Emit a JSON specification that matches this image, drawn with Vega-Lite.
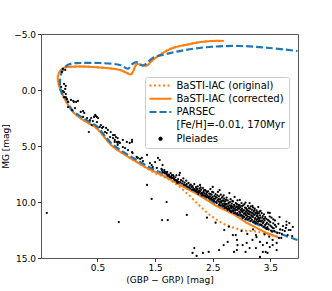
{
"$schema": "https://vega.github.io/schema/vega-lite/v6.json",
"width": 257, "height": 224,
"autosize": {"type": "none"},
"padding": {"left": 41, "top": 34, "right": 34, "bottom": 33},
"config": {
  "font": "DejaVu Sans",
  "view": {"stroke": "#555", "strokeWidth": 1},
  "axis": {"grid": false, "domain": false, "tickSize": 3.5, "tickColor": "#333", "labelFontSize": 9, "labelColor": "#000", "titleFontSize": 9, "titleFontWeight": "normal", "titleColor": "#000", "labelPadding": 2, "titlePadding": 3}
},
"datasets": {
"orig": [
{"i":1,"c":3.63,"m":13.13},{"i":2,"c":3.30,"m":12.68},{"i":3,"c":3.02,"m":12.50},{"i":4,"c":2.73,"m":12.05},{"i":5,"c":2.50,"m":11.34},{"i":6,"c":2.26,"m":10.27},{"i":7,"c":2.03,"m":9.11},{"i":8,"c":1.86,"m":8.39},{"i":9,"c":1.69,"m":7.86},{"i":10,"c":1.46,"m":7.32},
{"i":11,"c":1.24,"m":6.61},{"i":12,"c":0.98,"m":5.80},{"i":13,"c":0.76,"m":5.02},{"i":14,"c":0.62,"m":4.22},{"i":15,"c":0.49,"m":3.43},{"i":16,"c":0.25,"m":2.68},{"i":17,"c":0.06,"m":1.88},{"i":18,"c":-0.05,"m":0.98},{"i":19,"c":-0.12,"m":0.27},{"i":20,"c":-0.17,"m":-0.45},{"i":21,"c":-0.19,"m":-1.07},{"i":22,"c":-0.17,"m":-1.52},{"i":23,"c":-0.12,"m":-1.88},{"i":24,"c":-0.03,"m":-2.05},{"i":25,"c":0.20,"m":-2.10},{"i":26,"c":0.54,"m":-2.01},{"i":27,"c":0.89,"m":-1.79},{"i":28,"c":1.01,"m":-1.52},{"i":29,"c":1.08,"m":-1.38},{"i":30,"c":1.13,"m":-1.79},{"i":31,"c":1.18,"m":-2.30},{"i":32,"c":1.27,"m":-2.23},{"i":33,"c":1.36,"m":-2.18},{"i":34,"c":1.44,"m":-2.59},{"i":35,"c":1.53,"m":-2.95},{"i":36,"c":1.69,"m":-3.48},{"i":37,"c":1.86,"m":-3.84},{"i":38,"c":2.03,"m":-4.02},{"i":39,"c":2.29,"m":-4.29},{"i":40,"c":2.50,"m":-4.38},{"i":41,"c":2.69,"m":-4.38}
],
"corr": [
{"i":1,"c":3.63,"m":13.13},{"i":2,"c":3.40,"m":12.68},{"i":3,"c":3.30,"m":12.41},{"i":4,"c":3.07,"m":11.79},{"i":5,"c":2.85,"m":11.07},{"i":6,"c":2.54,"m":10.27},{"i":7,"c":2.26,"m":9.38},{"i":8,"c":1.93,"m":8.48},{"i":9,"c":1.69,"m":7.77},{"i":10,"c":1.46,"m":7.23},
{"i":11,"c":1.24,"m":6.61},{"i":12,"c":0.98,"m":5.80},{"i":13,"c":0.76,"m":5.02},{"i":14,"c":0.62,"m":4.22},{"i":15,"c":0.49,"m":3.43},{"i":16,"c":0.25,"m":2.68},{"i":17,"c":0.06,"m":1.88},{"i":18,"c":-0.05,"m":0.98},{"i":19,"c":-0.12,"m":0.27},{"i":20,"c":-0.17,"m":-0.45},{"i":21,"c":-0.19,"m":-1.07},{"i":22,"c":-0.17,"m":-1.52},{"i":23,"c":-0.12,"m":-1.88},{"i":24,"c":-0.03,"m":-2.05},{"i":25,"c":0.20,"m":-2.10},{"i":26,"c":0.54,"m":-2.01},{"i":27,"c":0.89,"m":-1.79},{"i":28,"c":1.01,"m":-1.52},{"i":29,"c":1.08,"m":-1.38},{"i":30,"c":1.13,"m":-1.79},{"i":31,"c":1.18,"m":-2.30},{"i":32,"c":1.27,"m":-2.23},{"i":33,"c":1.36,"m":-2.18},{"i":34,"c":1.44,"m":-2.59},{"i":35,"c":1.53,"m":-2.95},{"i":36,"c":1.69,"m":-3.48},{"i":37,"c":1.86,"m":-3.84},{"i":38,"c":2.03,"m":-4.02},{"i":39,"c":2.29,"m":-4.29},{"i":40,"c":2.50,"m":-4.38},{"i":41,"c":2.69,"m":-4.38}
],
"parsec": [
{"i":1,"c":3.97,"m":13.39},{"i":2,"c":3.59,"m":12.68},{"i":3,"c":3.30,"m":12.05},{"i":4,"c":3.07,"m":11.52},{"i":5,"c":2.85,"m":10.89},{"i":6,"c":2.54,"m":10.09},{"i":7,"c":2.26,"m":9.20},{"i":8,"c":1.93,"m":8.30},{"i":9,"c":1.69,"m":7.59},{"i":10,"c":1.46,"m":7.05},{"i":11,"c":1.24,"m":6.43},{"i":12,"c":0.98,"m":5.63},{"i":13,"c":0.76,"m":4.85},{"i":14,"c":0.62,"m":4.05},{"i":15,"c":0.49,"m":3.25},{"i":16,"c":0.25,"m":2.50},{"i":17,"c":0.06,"m":1.79},{"i":18,"c":-0.03,"m":0.89},{"i":19,"c":-0.12,"m":0.27},{"i":20,"c":-0.15,"m":-0.27},{"i":21,"c":-0.15,"m":-0.89},{"i":22,"c":-0.13,"m":-1.43},{"i":23,"c":-0.08,"m":-1.96},{"i":24,"c":0.02,"m":-2.32},{"i":25,"c":0.20,"m":-2.41},{"i":26,"c":0.54,"m":-2.41},{"i":27,"c":0.89,"m":-2.23},{"i":28,"c":1.03,"m":-1.90},{"i":29,"c":1.10,"m":-2.30},{"i":30,"c":1.18,"m":-2.48},{"i":31,"c":1.29,"m":-2.18},{"i":32,"c":1.46,"m":-2.86},{"i":33,"c":1.69,"m":-3.21},{"i":34,"c":2.02,"m":-3.57},{"i":35,"c":2.43,"m":-3.84},{"i":36,"c":2.97,"m":-3.93},{"i":37,"c":3.49,"m":-3.75},{"i":38,"c":3.97,"m":-3.48}
],
"stars": [
{"c":-0.10,"m":-1.88},{"c":-0.12,"m":-1.61},{"c":-0.06,"m":-1.79},{"c":-0.13,"m":-0.27},{"c":-0.08,"m":-0.54},{"c":-0.05,"m":-0.36},{"c":-0.06,"m":-0.09},{"c":-0.10,"m":0.09},{"c":-0.08,"m":0.18},{"c":-0.05,"m":0.36},{"c":-0.08,"m":0.63},{"c":-0.05,"m":0.63},{"c":-0.03,"m":0.80},{"c":-0.01,"m":1.07},{"c":0.04,"m":0.89},{"c":0.08,"m":0.98},{"c":0.09,"m":1.07},{"c":0.13,"m":1.07},{"c":0.16,"m":0.98},{"c":-0.01,"m":1.52},{"c":0.06,"m":1.79},{"c":0.11,"m":1.61},{"c":0.21,"m":1.96},{"c":0.25,"m":1.88},{"c":0.27,"m":2.05},{"c":0.25,"m":2.41},{"c":0.32,"m":2.50},{"c":0.37,"m":2.68},{"c":0.39,"m":2.50},{"c":0.42,"m":2.77},{"c":0.44,"m":2.41},{"c":0.46,"m":2.23},{"c":0.47,"m":2.32},{"c":0.49,"m":2.41},{"c":0.51,"m":2.50},{"c":0.40,"m":3.13},{"c":0.49,"m":2.86},{"c":0.35,"m":3.75},{"c":0.54,"m":3.30},{"c":0.56,"m":3.13},{"c":0.58,"m":3.39},{"c":0.60,"m":3.30},{"c":0.63,"m":3.75},{"c":0.65,"m":3.39},{"c":0.66,"m":3.84},{"c":0.68,"m":3.57},{"c":0.72,"m":4.20},{"c":0.73,"m":3.75},{"c":0.77,"m":4.02},{"c":0.77,"m":4.29},{"c":0.80,"m":4.46},{"c":0.80,"m":4.02},{"c":0.82,"m":4.20},{"c":0.84,"m":4.64},{"c":0.85,"m":4.29},{"c":0.85,"m":4.73},{"c":0.87,"m":4.64},{"c":0.89,"m":4.73},{"c":0.85,"m":4.91},{"c":0.80,"m":4.64},{"c":0.94,"m":4.46},{"c":0.94,"m":5.09},{"c":0.98,"m":5.18},{"c":1.01,"m":4.64},{"c":1.03,"m":5.36},{"c":1.06,"m":4.73},{"c":1.10,"m":4.46},{"c":1.10,"m":4.64},{"c":1.10,"m":5.54},{"c":1.11,"m":5.63},{"c":1.18,"m":5.98},{"c":1.20,"m":6.07},{"c":1.24,"m":6.16},{"c":1.27,"m":6.07},{"c":1.29,"m":6.34},{"c":1.36,"m":5.80},{"c":1.41,"m":6.52},{"c":1.44,"m":6.70},{"c":1.46,"m":6.88},{"c":1.50,"m":6.43},{"c":1.53,"m":6.96},{"c":1.55,"m":6.07},{"c":1.58,"m":6.25},{"c":1.62,"m":7.14},{"c":1.63,"m":6.70},{"c":1.67,"m":7.32},{"c":1.70,"m":7.41},{"c":1.72,"m":7.59},{"c":1.76,"m":7.77},{"c":1.79,"m":7.86},{"c":1.81,"m":7.59},{"c":1.84,"m":8.04},{"c":1.88,"m":8.21},{"c":1.89,"m":8.30},
{"c":1.61,"m":7.05},{"c":1.63,"m":7.25},{"c":1.64,"m":7.35},{"c":1.66,"m":7.15},{"c":1.67,"m":7.45},{"c":1.70,"m":7.50},{"c":1.71,"m":7.30},{"c":1.72,"m":7.62},{"c":1.74,"m":7.55},{"c":1.75,"m":7.70},{"c":1.77,"m":7.42},{"c":1.78,"m":7.78},{"c":1.79,"m":7.60},
{"c":1.81,"m":7.85},{"c":1.82,"m":7.70},{"c":1.83,"m":7.95},{"c":1.85,"m":7.80},{"c":1.86,"m":8.05},{"c":1.87,"m":7.62},{"c":1.88,"m":8.10},{"c":1.90,"m":7.95},{"c":1.91,"m":8.20},{"c":1.92,"m":7.59},{"c":1.93,"m":7.41},{"c":1.94,"m":8.25},{"c":1.95,"m":8.05},{"c":1.97,"m":8.35},{"c":1.98,"m":8.15},{"c":1.99,"m":7.90},{"c":2.00,"m":8.45},{"c":2.01,"m":8.28},{"c":2.03,"m":8.50},{"c":2.04,"m":8.10},{"c":2.05,"m":8.40},{"c":2.06,"m":8.62},{"c":2.08,"m":8.30},{"c":2.09,"m":8.70},{"c":2.10,"m":8.52},
{"c":2.11,"m":8.80},{"c":2.12,"m":8.45},{"c":2.13,"m":8.65},{"c":2.14,"m":8.90},{"c":2.15,"m":8.58},{"c":2.16,"m":8.75},{"c":2.17,"m":8.95},{"c":2.18,"m":8.40},{"c":2.19,"m":8.85},{"c":2.20,"m":9.02},{"c":2.21,"m":8.68},{"c":2.22,"m":8.92},{"c":2.23,"m":9.10},{"c":2.24,"m":8.60},{"c":2.25,"m":8.98},{"c":2.26,"m":9.15},{"c":2.27,"m":8.80},{"c":2.28,"m":8.48},{"c":2.28,"m":9.05},{"c":2.29,"m":9.25},{"c":2.30,"m":8.90},{"c":2.31,"m":9.18},{"c":2.32,"m":9.35},{"c":2.33,"m":8.75},{"c":2.34,"m":9.08},{"c":2.35,"m":9.40},{"c":2.36,"m":9.22},{"c":2.37,"m":8.95},{"c":2.38,"m":9.50},{"c":2.39,"m":9.30},{"c":2.40,"m":9.12},{"c":2.40,"m":9.58},
{"c":2.41,"m":9.40},{"c":2.42,"m":9.05},{"c":2.43,"m":9.62},{"c":2.44,"m":9.25},{"c":2.45,"m":9.50},{"c":2.46,"m":8.85},{"c":2.47,"m":9.70},{"c":2.48,"m":9.35},{"c":2.49,"m":9.80},{"c":2.50,"m":8.66},{"c":2.50,"m":9.55},{"c":2.51,"m":9.15},{"c":2.52,"m":9.90},{"c":2.53,"m":9.45},{"c":2.54,"m":9.72},{"c":2.55,"m":9.30},{"c":2.56,"m":10.00},{"c":2.57,"m":9.60},{"c":2.58,"m":9.85},{"c":2.59,"m":9.10},{"c":2.60,"m":9.95},{"c":2.61,"m":9.50},{"c":2.62,"m":8.93},{"c":2.62,"m":10.10},{"c":2.63,"m":9.75},{"c":2.64,"m":9.35},{"c":2.65,"m":10.05},{"c":2.66,"m":9.62},{"c":2.67,"m":10.20},{"c":2.68,"m":9.85},{"c":2.69,"m":9.40},{"c":2.70,"m":10.15},{"c":2.70,"m":9.70},
{"c":2.71,"m":10.35},{"c":2.72,"m":9.95},{"c":2.73,"m":10.50},{"c":2.74,"m":9.60},{"c":2.74,"m":10.20},{"c":2.75,"m":10.60},{"c":2.76,"m":9.85},{"c":2.77,"m":10.40},{"c":2.78,"m":10.05},{"c":2.79,"m":9.20},{"c":2.79,"m":10.65},{"c":2.80,"m":10.30},{"c":2.81,"m":9.75},{"c":2.82,"m":10.55},{"c":2.83,"m":10.15},{"c":2.84,"m":10.75},{"c":2.85,"m":9.95},{"c":2.85,"m":10.45},{"c":2.86,"m":10.80},{"c":2.87,"m":10.25},{"c":2.88,"m":9.55},{"c":2.88,"m":10.60},{"c":2.89,"m":10.95},{"c":2.90,"m":10.10},{"c":2.91,"m":10.70},{"c":2.92,"m":10.40},{"c":2.93,"m":9.85},{"c":2.93,"m":11.00},{"c":2.94,"m":10.55},{"c":2.95,"m":10.25},{"c":2.96,"m":10.85},{"c":2.97,"m":9.82},{"c":2.97,"m":11.10},{"c":2.98,"m":10.45},{"c":2.99,"m":10.70},{"c":3.00,"m":10.10},{"c":3.00,"m":11.15},
{"c":3.01,"m":10.60},{"c":3.02,"m":10.90},{"c":3.02,"m":11.25},{"c":3.03,"m":10.30},{"c":3.04,"m":11.05},{"c":3.05,"m":10.75},{"c":3.05,"m":11.35},{"c":3.06,"m":10.50},{"c":3.07,"m":11.15},{"c":3.07,"m":10.05},{"c":3.08,"m":10.85},{"c":3.09,"m":11.40},{"c":3.09,"m":10.65},{"c":3.10,"m":11.00},{"c":3.11,"m":10.35},{"c":3.11,"m":11.30},{"c":3.12,"m":10.80},{"c":3.13,"m":11.50},{"c":3.13,"m":10.55},{"c":3.14,"m":10.09},{"c":3.14,"m":11.10},{"c":3.15,"m":10.90},{"c":3.16,"m":11.45},{"c":3.16,"m":10.40},{"c":3.17,"m":11.20},{"c":3.18,"m":10.70},{"c":3.18,"m":11.60},{"c":3.19,"m":11.00},{"c":3.20,"m":10.50},{"c":3.20,"m":11.35},{"c":3.21,"m":10.85},{"c":3.22,"m":11.70},{"c":3.22,"m":11.15},{"c":3.23,"m":10.60},{"c":3.24,"m":11.45},{"c":3.24,"m":10.95},{"c":3.25,"m":11.80},{"c":3.26,"m":11.25},{"c":3.26,"m":10.75},{"c":3.27,"m":11.55},{"c":3.28,"m":11.05},{"c":3.28,"m":11.90},{"c":3.29,"m":10.45},{"c":3.29,"m":11.40},{"c":3.30,"m":11.70},{"c":3.30,"m":11.00},
{"c":3.31,"m":11.55},{"c":3.32,"m":12.00},{"c":3.32,"m":11.20},{"c":3.33,"m":10.80},{"c":3.34,"m":11.75},{"c":3.35,"m":12.10},{"c":3.36,"m":11.40},{"c":3.37,"m":11.90},{"c":3.38,"m":12.20},{"c":3.39,"m":11.10},{"c":3.40,"m":11.65},{"c":3.41,"m":12.05},{"c":3.42,"m":12.35},{"c":3.43,"m":11.50},{"c":3.44,"m":11.85},{"c":3.45,"m":12.25},{"c":3.46,"m":10.95},{"c":3.47,"m":12.45},{"c":3.48,"m":11.70},{"c":3.49,"m":10.98},{"c":3.50,"m":12.10},{"c":3.51,"m":12.55},{"c":3.52,"m":11.40},{"c":3.54,"m":12.30},{"c":3.55,"m":11.90},{"c":3.57,"m":12.60},{"c":3.58,"m":11.65},{"c":3.60,"m":12.20},
{"c":3.62,"m":12.75},{"c":3.64,"m":11.95},{"c":3.66,"m":11.34},{"c":3.67,"m":12.45},{"c":3.70,"m":12.85},{"c":3.72,"m":12.15},{"c":3.75,"m":12.60},{"c":3.78,"m":11.75},{"c":3.80,"m":12.95},{"c":3.83,"m":11.88},{"c":3.85,"m":12.50},{"c":3.88,"m":13.05},{"c":3.66,"m":12.77},{"c":3.71,"m":12.50},{"c":3.78,"m":12.05},{"c":3.89,"m":12.23},{"c":3.69,"m":13.21},
{"c":2.21,"m":9.05},{"c":2.23,"m":8.82},{"c":2.25,"m":9.28},{"c":2.27,"m":9.00},{"c":2.29,"m":8.70},{"c":2.31,"m":9.42},{"c":2.33,"m":9.20},{"c":2.35,"m":8.95},{"c":2.37,"m":9.45},{"c":2.39,"m":9.05},{"c":2.42,"m":9.55},{"c":2.44,"m":9.70},{"c":2.46,"m":9.30},{"c":2.48,"m":9.60},{"c":2.49,"m":9.10},
{"c":2.51,"m":9.75},{"c":2.53,"m":9.95},{"c":2.55,"m":9.55},{"c":2.57,"m":10.10},{"c":2.58,"m":9.40},{"c":2.60,"m":9.75},{"c":2.61,"m":10.25},{"c":2.63,"m":9.95},{"c":2.64,"m":10.30},{"c":2.66,"m":9.90},{"c":2.67,"m":9.55},{"c":2.68,"m":10.35},{"c":2.70,"m":9.95},{"c":2.71,"m":10.55},{"c":2.72,"m":10.20},{"c":2.73,"m":9.80},{"c":2.75,"m":10.40},{"c":2.76,"m":10.70},{"c":2.77,"m":10.15},{"c":2.78,"m":10.55},{"c":2.80,"m":10.00},{"c":2.80,"m":10.80},
{"c":2.81,"m":10.45},{"c":2.82,"m":10.90},{"c":2.83,"m":10.35},{"c":2.84,"m":9.90},{"c":2.86,"m":10.60},{"c":2.87,"m":11.00},{"c":2.88,"m":10.35},{"c":2.89,"m":10.75},{"c":2.90,"m":10.50},{"c":2.91,"m":11.05},{"c":2.92,"m":10.20},{"c":2.93,"m":10.70},{"c":2.94,"m":11.15},{"c":2.95,"m":10.45},{"c":2.96,"m":10.60},{"c":2.97,"m":10.30},{"c":2.98,"m":10.95},{"c":2.99,"m":11.20},{"c":3.00,"m":10.80},{"c":3.01,"m":10.35},{"c":3.02,"m":11.45},{"c":3.03,"m":10.75},{"c":3.04,"m":11.30},{"c":3.05,"m":10.20},{"c":3.06,"m":11.00},{"c":3.07,"m":11.55},{"c":3.08,"m":10.55},{"c":3.09,"m":11.20},{"c":3.10,"m":10.75},
{"c":3.11,"m":11.55},{"c":3.12,"m":11.05},{"c":3.13,"m":10.85},{"c":3.14,"m":11.35},{"c":3.15,"m":10.60},{"c":3.16,"m":11.70},{"c":3.17,"m":10.95},{"c":3.18,"m":11.25},{"c":3.19,"m":10.35},{"c":3.20,"m":11.80},{"c":3.21,"m":11.10},{"c":3.22,"m":10.75},{"c":3.23,"m":11.50},{"c":3.24,"m":11.90},{"c":3.25,"m":11.05},{"c":3.26,"m":11.60},{"c":3.27,"m":10.90},{"c":3.28,"m":11.25},{"c":3.29,"m":11.75},{"c":3.30,"m":11.45},{"c":3.31,"m":10.85},{"c":3.32,"m":11.70},{"c":3.33,"m":11.40},{"c":3.34,"m":12.05},{"c":3.35,"m":11.00},{"c":3.36,"m":11.65},{"c":3.37,"m":11.25},{"c":3.38,"m":11.80},{"c":3.39,"m":11.50},{"c":3.40,"m":12.20},
{"c":3.41,"m":11.35},{"c":3.43,"m":11.95},{"c":3.44,"m":12.40},{"c":3.46,"m":11.60},{"c":3.47,"m":12.00},{"c":3.49,"m":11.30},{"c":3.50,"m":11.80},{"c":3.52,"m":12.20},{"c":3.53,"m":12.65},{"c":3.55,"m":11.55},{"c":3.56,"m":12.35},{"c":3.58,"m":12.05},
{"c":2.85,"m":12.95},{"c":2.92,"m":13.39},{"c":2.92,"m":14.29},{"c":3.02,"m":13.84},{"c":3.09,"m":13.66},{"c":3.14,"m":14.11},{"c":3.19,"m":13.39},{"c":3.26,"m":13.13},{"c":3.32,"m":13.57},{"c":3.37,"m":14.46},{"c":3.44,"m":13.66},{"c":3.49,"m":14.02},{"c":3.54,"m":13.39},{"c":3.61,"m":13.66},{"c":3.61,"m":14.29},{"c":3.45,"m":14.55},{"c":3.32,"m":14.91},{"c":2.18,"m":14.11},{"c":2.33,"m":14.55},{"c":2.43,"m":14.46},{"c":2.61,"m":14.29},{"c":2.69,"m":13.84},{"c":2.76,"m":13.57},{"c":2.90,"m":12.95},{"c":2.93,"m":13.84},{"c":2.87,"m":14.46},{"c":3.07,"m":14.46},{"c":3.25,"m":14.11},{"c":3.37,"m":13.84},{"c":3.42,"m":14.46},{"c":3.54,"m":13.84},{"c":3.65,"m":13.21},{"c":3.77,"m":12.32},{"c":3.82,"m":12.50},{"c":2.15,"m":14.55},{"c":2.22,"m":14.82},{"c":2.05,"m":11.16},{"c":1.70,"m":10.00},{"c":1.72,"m":11.61},{"c":1.62,"m":11.61},{"c":1.44,"m":9.73},{"c":1.36,"m":8.48},{"c":0.87,"m":11.79},{"c":-0.38,"m":10.98},
{"c":2.40,"m":11.40},{"c":2.55,"m":11.85},{"c":2.70,"m":12.50},{"c":2.78,"m":12.20},{"c":3.00,"m":12.60},{"c":3.10,"m":12.85},{"c":3.20,"m":12.45},{"c":3.25,"m":12.95},{"c":3.40,"m":12.90},{"c":3.48,"m":13.10}
]
},
"layer": [
{"data": {"name": "orig"},
 "mark": {"type": "line", "strokeWidth": 2, "strokeDash": [2, 2.5], "interpolate": "catmull-rom", "clip": true},
 "encoding": {
  "x": {"field": "c", "type": "quantitative", "scale": {"domain": [-0.48, 3.98], "nice": false, "zero": false}, "axis": {"values": [0.5, 1.5, 2.5, 3.5], "format": ".1f", "title": "(GBP − GRP) [mag]"}},
  "y": {"field": "m", "type": "quantitative", "scale": {"domain": [-5, 15], "reverse": true, "nice": false, "zero": false}, "axis": {"values": [-5, -2.5, 0, 2.5, 5, 7.5, 10, 12.5, 15], "format": ".1f", "title": "MG [mag]"}},
  "order": {"field": "i"},
  "color": {"datum": "BaSTI-IAC (original)", "type": "nominal",
   "scale": {"domain": ["BaSTI-IAC (original)", "BaSTI-IAC (corrected)", "PARSEC", "[Fe/H]=-0.01, 170Myr", "Pleiades"], "range": ["#ff7f0e", "#ff7f0e", "#1f77b4", "transparent", "#000000"]},
   "legend": {"title": null, "orient": "none", "legendX": 104, "legendY": 43, "labelFontSize": 10, "labelFont": "DejaVu Sans", "labelColor": "#000", "symbolSize": 484, "clipHeight": 10, "rowPadding": 3.3, "padding": 3.5, "labelOffset": 4, "fillColor": "rgba(255,255,255,0.8)", "strokeColor": "#cccccc", "cornerRadius": 2, "symbolType": "stroke", "symbolStrokeWidth": 2,
    "encode": {"symbols": {"update": {
      "shape": {"signal": "datum.value === 'Pleiades' ? 'circle' : 'stroke'"},
      "size": {"signal": "datum.value === 'Pleiades' ? 5 : 484"},
      "strokeDash": {"signal": "datum.value === 'BaSTI-IAC (original)' ? [2, 2.5] : datum.value === 'PARSEC' ? [7, 3] : [1, 0]"},
      "stroke": {"signal": "(datum.value === 'BaSTI-IAC (original)' || datum.value === 'BaSTI-IAC (corrected)') ? '#ff7f0e' : datum.value === 'PARSEC' ? '#1f77b4' : 'transparent'"},
      "fill": {"signal": "datum.value === 'Pleiades' ? '#000000' : 'transparent'"},
      "strokeWidth": {"value": 2},
      "opacity": {"value": 1}
    }}}}
  }
 }},
{"data": {"name": "corr"},
 "mark": {"type": "line", "strokeWidth": 2, "interpolate": "catmull-rom", "clip": true},
 "encoding": {
  "x": {"field": "c", "type": "quantitative"},
  "y": {"field": "m", "type": "quantitative"},
  "order": {"field": "i"},
  "color": {"datum": "BaSTI-IAC (corrected)", "type": "nominal"}
 }},
{"data": {"name": "parsec"},
 "mark": {"type": "line", "strokeWidth": 2.2, "strokeDash": [7, 3], "interpolate": "catmull-rom", "clip": true},
 "encoding": {
  "x": {"field": "c", "type": "quantitative"},
  "y": {"field": "m", "type": "quantitative"},
  "order": {"field": "i"},
  "color": {"datum": "PARSEC", "type": "nominal"}
 }},
{"data": {"name": "stars"},
 "mark": {"type": "circle", "size": 5, "opacity": 1, "clip": true},
 "encoding": {
  "x": {"field": "c", "type": "quantitative"},
  "y": {"field": "m", "type": "quantitative"},
  "color": {"datum": "Pleiades", "type": "nominal"}
 }}
]
}
